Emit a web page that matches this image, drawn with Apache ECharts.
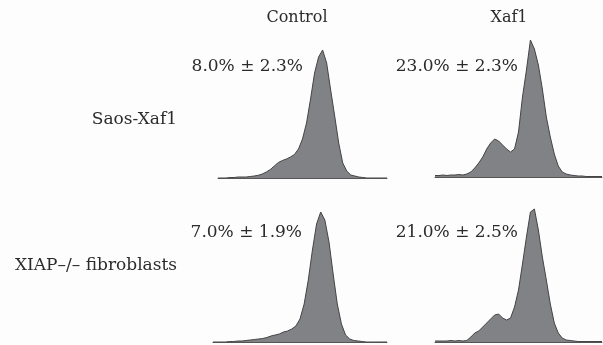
<!DOCTYPE html>
<html>
<head>
<meta charset="utf-8">
<script src="https://cdn.jsdelivr.net/npm/echarts@6/dist/echarts.min.js"></script>
<style>
  html, body { margin: 0; padding: 0; background: #fdfdfd; }
  #chart { width: 603px; height: 345px; }
</style>
</head>
<body>
<div id="chart"></div>
<script>
// column / row headings and the percentages printed on each panel
const colLabels = ['Control', 'Xaf1'];
const rowLabels = ['Saos-Xaf1', 'XIAP–/– fibroblasts'];
const pctLabels = ['8.0% ± 2.3%', '23.0% ± 2.3%', '7.0% ± 1.9%', '21.0% ± 2.5%'];

// histogram bins (43 channels per panel)
const bins = Array.from({ length: 43 }, (_, i) => i);

// counts per bin
const saosControl = [0, 0, 0, 0.5, 0.5, 1, 1, 1, 1.5, 2, 2.7, 4, 6, 8.5, 12, 15.5, 17.5, 19, 21, 23.5, 29, 39, 55, 79, 105, 121, 128,
  115, 88, 62, 35, 15, 7, 3, 2, 1, 0.5, 0, 0, 0, 0, 0, 0];
const saosXaf1 = [1.5, 1.5, 2, 1.5, 2, 2, 2.5, 2, 3, 5, 9, 14, 20, 28, 34, 38, 36, 32, 28, 25, 28, 45, 80, 107, 137, 128,
  112, 88, 60, 40, 23, 11, 5, 3, 2, 1.5, 1, 1, 0.5, 0.5, 0.5, 0.5, 0.5];
const xiapControl = [0, 0, 0, 0, 0.5, 0.5, 1, 1, 1.5, 2, 2.5, 3, 3.5, 4.5, 6, 7, 8, 10, 11, 13, 16, 23, 38, 62, 92, 118, 130,
  122, 100, 68, 38, 18, 7, 3, 1.5, 1, 0.5, 0, 0, 0, 0, 0, 0];
const xiapXaf1 = [1, 1, 1, 1, 1.5, 1, 1.5, 1, 1.5, 5, 9, 11, 15, 19, 23, 27, 28, 24, 22, 24, 35, 52, 78, 105, 130, 133,
  112, 85, 62, 38, 19, 9, 4, 2, 1.5, 1, 0.5, 0.5, 0.5, 0.5, 0.5, 0.5, 0.5];

const panels = [saosControl, saosXaf1, xiapControl, xiapXaf1];

// panel boxes: [left, top, width]
const boxes = [[218, 38, 169], [435, 37, 167], [213, 202, 174], [435, 202, 167]];
const yMax = 140;

const chart = echarts.init(document.getElementById('chart'));

const textColor = '#2b2b2b';
const font = '"DejaVu Serif", serif';

const graphics = [];
colLabels.forEach((t, i) => {
  graphics.push({
    type: 'text', x: [297, 509][i], y: 18,
    style: { text: t, fill: textColor, font: '16px ' + font, textAlign: 'center', textVerticalAlign: 'middle' }
  });
});
rowLabels.forEach((t, i) => {
  graphics.push({
    type: 'text', x: 177, y: [120, 266][i],
    style: { text: t, fill: textColor, font: '17px ' + font, textAlign: 'right', textVerticalAlign: 'middle' }
  });
});
pctLabels.forEach((t, i) => {
  graphics.push({
    type: 'text', x: [303, 518, 302, 518][i], y: [67, 67, 233, 233][i],
    style: { text: t, fill: textColor, font: '17px ' + font, textAlign: 'right', textVerticalAlign: 'middle' }
  });
});

chart.setOption({
  animation: false,
  backgroundColor: '#fdfdfd',
  grid: boxes.map(b => ({ left: b[0], top: b[1], width: b[2], height: yMax })),
  xAxis: boxes.map((b, i) => ({
    type: 'category',
    gridIndex: i,
    data: bins,
    boundaryGap: false,
    axisLine: { show: true, lineStyle: { color: '#555', width: 1 } },
    axisTick: { show: false },
    axisLabel: { show: false },
    splitLine: { show: false }
  })),
  yAxis: boxes.map((b, i) => ({
    type: 'value',
    gridIndex: i,
    min: 0,
    max: yMax,
    show: false,
    splitLine: { show: false }
  })),
  series: panels.map((d, i) => ({
    type: 'line',
    xAxisIndex: i,
    yAxisIndex: i,
    data: d,
    symbol: 'none',
    lineStyle: { color: '#444', width: 1 },
    areaStyle: { color: '#808285', opacity: 1 }
  })),
  graphic: graphics
});
</script>
</body>
</html>
